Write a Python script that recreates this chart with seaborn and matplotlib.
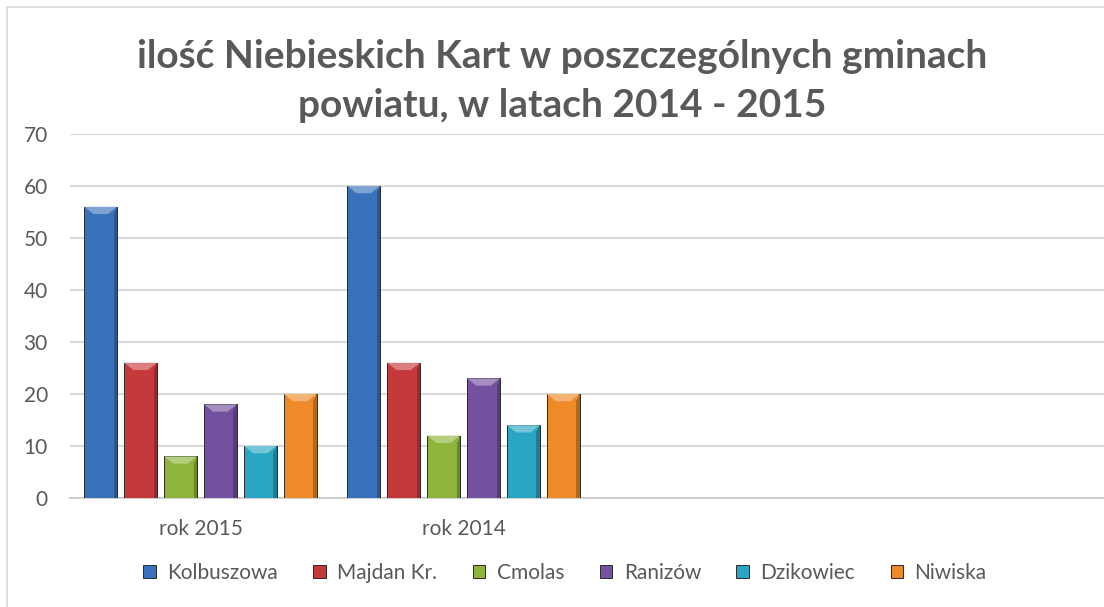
import matplotlib
matplotlib.use("Agg")
import matplotlib.pyplot as plt
import matplotlib.colors as mcolors
from matplotlib.patches import Polygon, Rectangle
import pandas as pd
import seaborn as sns

# data
years = ["rok 2015", "rok 2014"]
gminy = ["Kolbuszowa", "Majdan Kr.", "Cmolas", "Ranizów", "Dzikowiec", "Niwiska"]
values_2015 = [56, 26, 8, 18, 10, 20]
values_2014 = [60, 26, 12, 23, 14, 20]
colors = ["#3A71BC", "#C6393B", "#8FB43B", "#7450A0", "#2AA5C4", "#EE8A27"]

rows = []
for year, vals in zip(years, [values_2015, values_2014]):
    for g, v in zip(gminy, vals):
        rows.append({"rok": year, "gmina": g, "ilosc": v})
df = pd.DataFrame(rows)

sns.set_style("white")
plt.rcParams["font.family"] = ["Lato", "DejaVu Sans"]
grey = "#595959"

fig = plt.figure(figsize=(11.04, 6.07), dpi=100)
ax = fig.add_axes([70 / 1104, 1 - 498 / 607, 1 - 70 / 1104, 364 / 607])

sns.barplot(data=df, x="rok", y="ilosc", hue="gmina", order=years,
            hue_order=gminy, palette=colors, saturation=1, width=0.91, gap=0.18,
            edgecolor="#2a2a2a", linewidth=0.7, ax=ax, zorder=3)

# simple bevel on top of each bar (geometry taken from the drawn bars)
for patch in list(ax.patches):
    x, w, h = patch.get_x(), patch.get_width(), patch.get_height()
    if w <= 0 or h <= 0:
        continue
    fc = mcolors.to_rgb(patch.get_facecolor())
    light = tuple(min(1, c + (1 - c) * 0.35) for c in fc)
    dark = tuple(c * 0.75 for c in fc)
    d = w * 0.28
    dy = 1.4
    ax.add_patch(Polygon([(x, h), (x + w, h), (x + w - d, h - dy), (x + d, h - dy)],
                         closed=True, facecolor=light, edgecolor="none", zorder=4))
    ax.add_patch(Polygon([(x + w, h), (x + w, 0), (x + w - w * 0.1, 0), (x + w - w * 0.1, h - dy)],
                         closed=True, facecolor=dark, edgecolor="none", zorder=4))

ax.set_ylim(0, 70)
ax.set_yticks(range(0, 71, 10))
ax.set_xlim(-0.496, 3.435)
ax.grid(axis="y", color="#D9D9D9", linewidth=1.5, zorder=0)
ax.grid(axis="x", visible=False)
for s in ["left", "right", "top"]:
    ax.spines[s].set_visible(False)
ax.spines["bottom"].set_color("#D0D0D0")
ax.spines["bottom"].set_linewidth(1.5)
ax.tick_params(axis="y", length=0, pad=16, labelsize=15, labelcolor=grey)
ax.tick_params(axis="x", length=0, pad=15, labelsize=15, labelcolor=grey)
ax.set_xlabel("")
ax.set_ylabel("")

handles, labels = ax.get_legend_handles_labels()
ax.legend(handles, labels, ncol=6, frameon=False, loc="center",
          bbox_to_anchor=(565 / 1104, 1 - 573 / 607), bbox_transform=fig.transFigure,
          handlelength=0.6, handleheight=0.6, handletextpad=0.55,
          columnspacing=1.7, fontsize=15, labelcolor=grey)

fig.text(562 / 1104, 1 - 81 / 607,
         "ilość Niebieskich Kart w poszczególnych gminach\npowiatu, w latach 2014 - 2015",
         ha="center", va="center", fontsize=28, fontweight="bold", color=grey,
         linespacing=1.45)

fig.add_artist(Rectangle((7 / 1104, -0.1), 1.2, 1.1 - 7 / 607,
                         transform=fig.transFigure, fill=False,
                         edgecolor="#D9D9D9", linewidth=1.2))

fig.savefig("out.png", dpi=100)
